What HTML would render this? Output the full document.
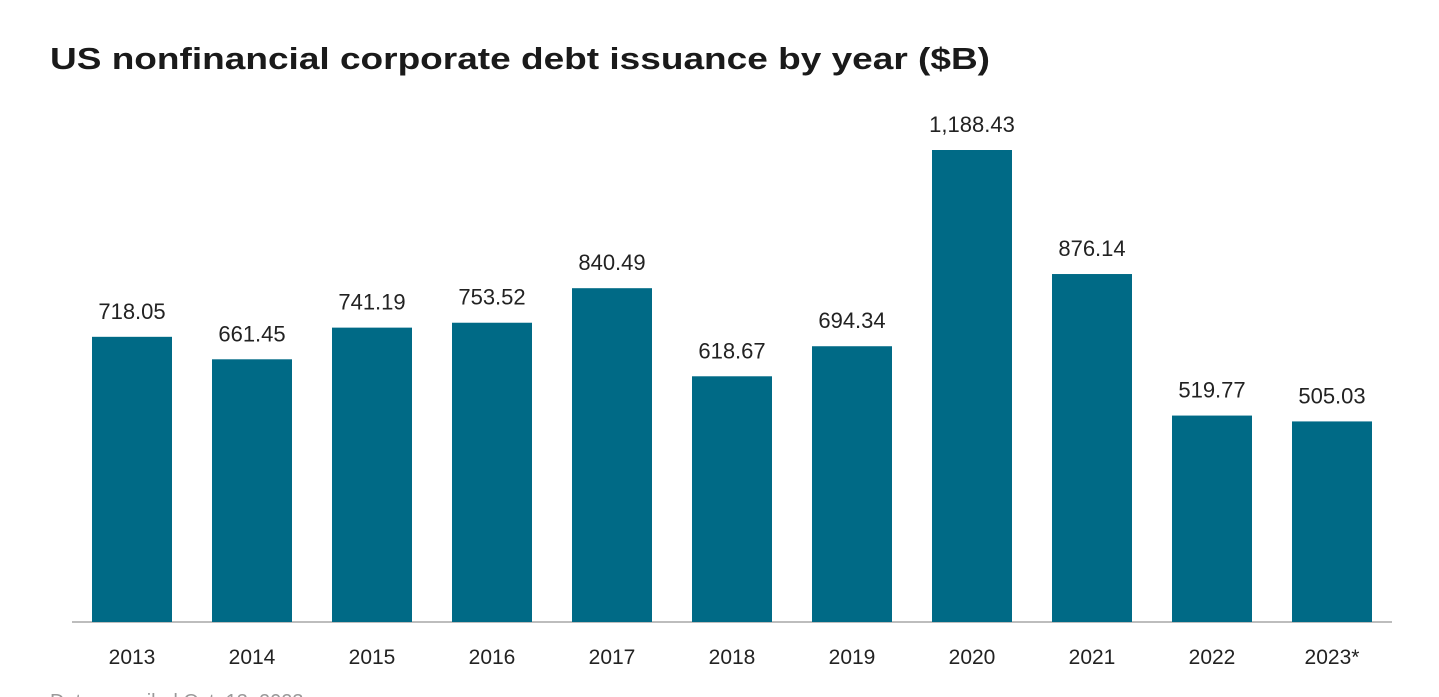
<!DOCTYPE html>
<html><head><meta charset="utf-8"><style>
html,body{margin:0;padding:0;background:#fff;width:1439px;height:697px;overflow:hidden;font-family:"Liberation Sans",sans-serif}
</style></head><body>
<svg id="chart" width="1439" height="697" xmlns="http://www.w3.org/2000/svg">
<text x="50" y="69" font-size="31" font-weight="bold" fill="#1a1a1a" font-family="Liberation Sans, sans-serif" textLength="940" lengthAdjust="spacingAndGlyphs">US nonfinancial corporate debt issuance by year ($B)</text>
<line x1="72" y1="622" x2="1392" y2="622" stroke="#bdbdbd" stroke-width="2"/>
<g id="bars"></g>
<text x="50" y="708" font-size="20" fill="#999">Data compiled Oct. 13, 2023.</text>
</svg>
<script>
const categories = ["2013","2014","2015","2016","2017","2018","2019","2020","2021","2022","2023*"];
const values = [718.05,661.45,741.19,753.52,840.49,618.67,694.34,1188.43,876.14,519.77,505.03];
const valueLabels = ["718.05","661.45","741.19","753.52","840.49","618.67","694.34","1,188.43","876.14","519.77","505.03"];
const NS="http://www.w3.org/2000/svg";
const baseY=622, pxPerUnit=472/1188.43;
function xCenter(i){return 132+i*120;}
function yScale(v){return baseY - v*pxPerUnit;}
const g=document.getElementById('bars');
categories.forEach((c,i)=>{
  const top=yScale(values[i]);
  const r=document.createElementNS(NS,'rect');
  
  
  r.setAttribute('x',xCenter(i)-40);r.setAttribute('y',top);
  r.setAttribute('width',80);r.setAttribute('height',baseY-top);
  r.setAttribute('fill','#006a86');
  g.appendChild(r);
  const t=document.createElementNS(NS,'text');
  
  
  t.setAttribute('x',xCenter(i));t.setAttribute('y',top-18);
  t.setAttribute('text-anchor','middle');t.setAttribute('font-size','22');t.setAttribute('fill','#222');
  t.textContent=valueLabels[i];
  g.appendChild(t);
  const l=document.createElementNS(NS,'text');
  
  
  l.setAttribute('x',xCenter(i));l.setAttribute('y',664);
  l.setAttribute('text-anchor','middle');l.setAttribute('font-size','21');l.setAttribute('fill','#222');
  l.textContent=c;
  g.appendChild(l);
});
</script>
</body></html>
